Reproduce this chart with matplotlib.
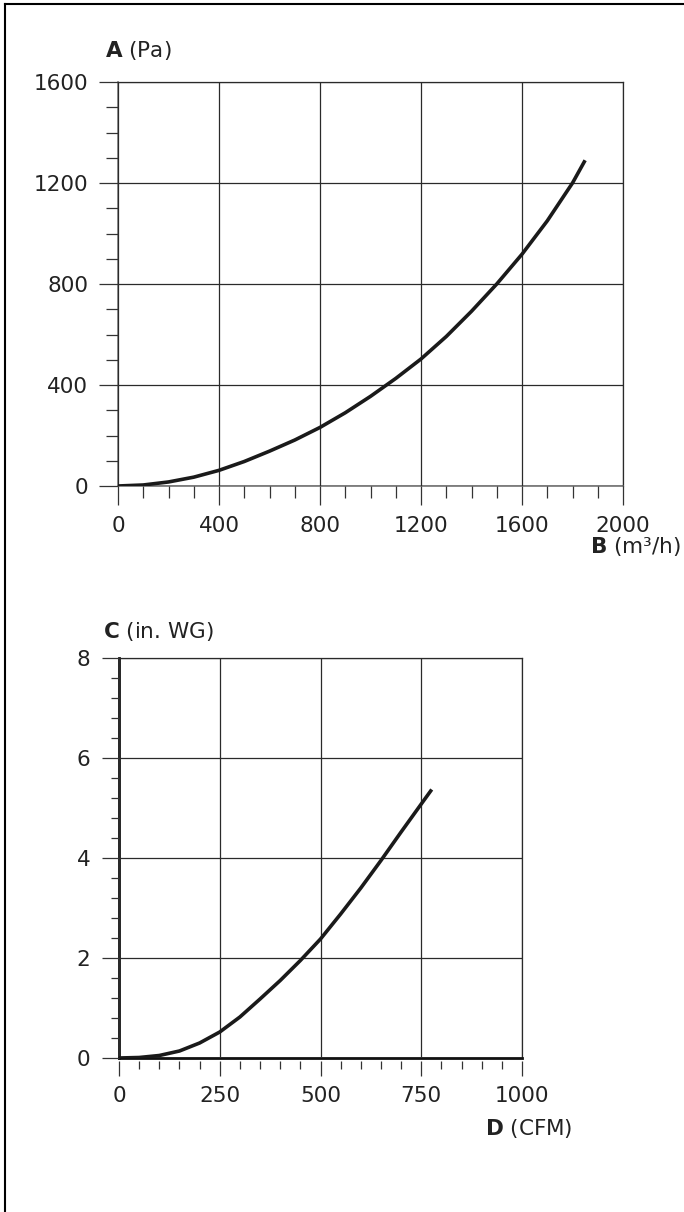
"""
plot.py — duct pressure-drop curves (metric + imperial), two stacked panels.
"""

import matplotlib
matplotlib.use("Agg")
import matplotlib.pyplot as plt
from matplotlib.lines import Line2D
from matplotlib.ticker import MultipleLocator

W, H = 684, 1212

# metric panel
flow_m3h = [0, 100, 200, 300, 400, 500, 600, 700, 800, 900, 1000,
            1100, 1200, 1300, 1400, 1500, 1600, 1700, 1800, 1850]
pressure_pa = [0, 4, 16, 35, 62, 97, 138, 182, 232, 290, 355,
               426, 503, 592, 692, 800, 918, 1050, 1200, 1290]

# imperial panel
flow_cfm = [0, 50, 100, 150, 200, 250, 300, 350, 400, 450, 500,
            550, 600, 650, 700, 750, 776]
pressure_inwg = [0, 0.01, 0.05, 0.14, 0.30, 0.52, 0.82, 1.18, 1.55, 1.95, 2.38,
                 2.88, 3.40, 3.95, 4.52, 5.08, 5.37]

x1_ticks = [0, 400, 800, 1200, 1600, 2000]
y1_ticks = [0, 400, 800, 1200, 1600]
x2_ticks = [0, 250, 500, 750, 1000]
y2_ticks = [0, 2, 4, 6, 8]

plt.rcParams["font.family"] = ["DejaVu Sans"]
plt.rcParams["mathtext.fontset"] = "dejavusans"

TEXT = "#222222"
GRID = "#2a2a2a"
FS = 15.5


def fx(px):
    return px / W


def fy(py):
    return 1 - py / H


def box(left, top, right, bottom):
    return [fx(left), fy(bottom), fx(right) - fx(left), fy(top) - fy(bottom)]


def style_axes(ax, spine_color, spine_w, major_len, minor_len, pad):
    for side in ("top", "right"):
        ax.spines[side].set_color(GRID)
        ax.spines[side].set_linewidth(0.9)
    for side in ("left", "bottom"):
        ax.spines[side].set_color(spine_color)
        ax.spines[side].set_linewidth(spine_w)
    ax.grid(True, which="major", color=GRID, linewidth=0.9)
    ax.set_axisbelow(False)
    ax.tick_params(which="major", direction="out", length=major_len, width=0.9,
                   color="#333333", labelsize=FS, labelcolor=TEXT, pad=pad)
    ax.tick_params(which="minor", direction="out", length=minor_len, width=0.9,
                   color="#333333")


fig = plt.figure(figsize=(W / 100, H / 100), dpi=100)

# page frame (cropped figure border)
fig.add_artist(Line2D([fx(5), fx(5)], [0, fy(4)], color="black", lw=1.5))
fig.add_artist(Line2D([fx(5), 1], [fy(4), fy(4)], color="black", lw=1.5))

# --- panel 1: Pa vs m3/h
ax1 = fig.add_axes(box(118, 82, 623, 486))
ax1.plot(flow_m3h, pressure_pa, color="#1a1a1a", lw=2.6,
         solid_capstyle="butt", solid_joinstyle="round", zorder=3)
ax1.set_xlim(0, 2000)
ax1.set_ylim(0, 1600)
ax1.set_xticks(x1_ticks)
ax1.set_yticks(y1_ticks)
ax1.xaxis.set_minor_locator(MultipleLocator(100))
ax1.yaxis.set_minor_locator(MultipleLocator(100))
style_axes(ax1, "#666666", 1.1, 13.5, 8.5, 8)

fig.text(fx(105), fy(51), r"$\mathbf{A}$ (Pa)", fontsize=FS, color=TEXT,
         ha="left", va="center")
fig.text(fx(681), fy(547), r"$\mathbf{B}$ (m³/h)", fontsize=FS, color=TEXT,
         ha="right", va="center")

# --- panel 2: in. WG vs CFM
top2, bot2 = 658, 1058
ax2 = fig.add_axes(box(119, top2, 522, bot2))
ax2.plot(flow_cfm, pressure_inwg, color="#1a1a1a", lw=2.6,
         solid_capstyle="butt", solid_joinstyle="round", zorder=3)
ax2.set_xlim(0, 1000)
ax2.set_ylim(0, 8)
ax2.set_yticks(y2_ticks)
ax2.set_xticks(x2_ticks)
ax2.xaxis.set_minor_locator(MultipleLocator(50))
ax2.yaxis.set_minor_locator(MultipleLocator(0.4))
style_axes(ax2, "#111111", 2.0, 12.5, 6, 8)
# x ticks here sit a little below the spine, so draw them on a detached axis
ax2.tick_params(axis="x", which="both", length=0, labelbottom=False)
sec = ax2.secondary_xaxis(-3 / (bot2 - top2))
sec.set_xticks(x2_ticks)
sec.xaxis.set_minor_locator(MultipleLocator(50))
sec.spines["bottom"].set_visible(False)
sec.tick_params(which="major", direction="out", length=11, width=0.9,
                color="#333333", labelsize=FS, labelcolor=TEXT, pad=7)
sec.tick_params(which="minor", direction="out", length=6, width=0.9,
                color="#333333")

fig.text(fx(103), fy(top2 - 27), r"$\mathbf{C}$ (in. WG)", fontsize=FS,
         color=TEXT, ha="left", va="center")
fig.text(fx(573), fy(1129), r"$\mathbf{D}$ (CFM)", fontsize=FS, color=TEXT,
         ha="right", va="center")

fig.savefig("out.png", dpi=100)
plt.close(fig)
